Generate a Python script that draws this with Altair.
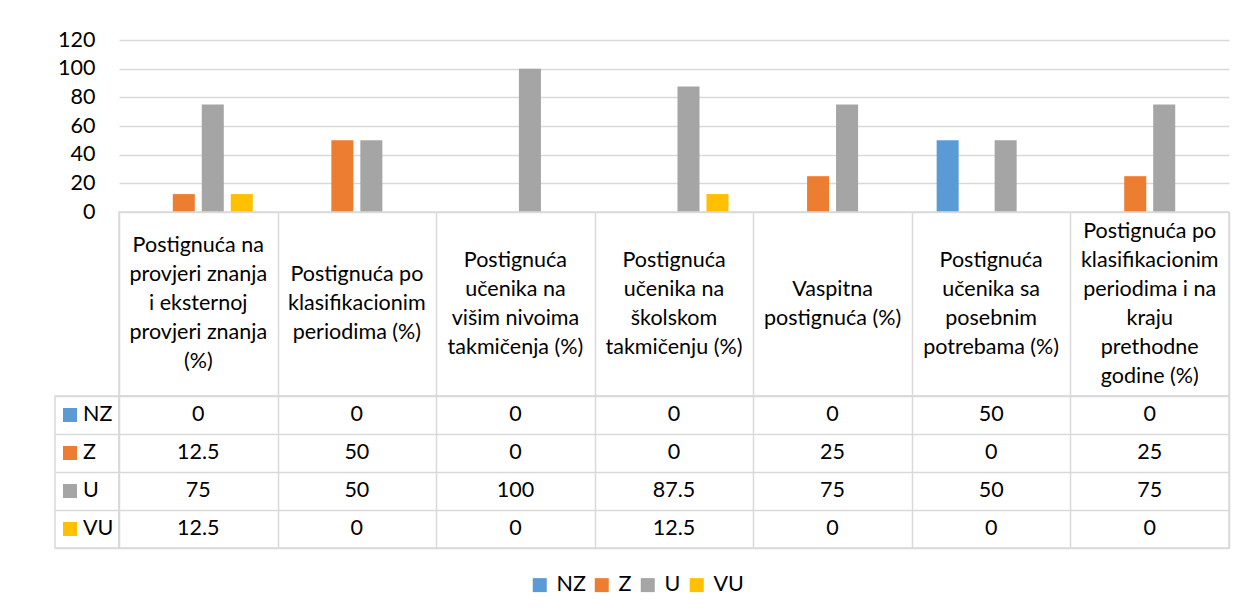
import altair as alt
import pandas as pd

categories = [
    "Postignuća na provjeri znanja i eksternoj provjeri znanja (%)",
    "Postignuća po klasifikacionim periodima (%)",
    "Postignuća učenika na višim nivoima takmičenja (%)",
    "Postignuća učenika na školskom takmičenju (%)",
    "Vaspitna postignuća (%)",
    "Postignuća učenika sa posebnim potrebama (%)",
    "Postignuća po klasifikacionim periodima i na kraju prethodne godine (%)",
]
header_lines = [
    ["Postignuća na", "provjeri znanja", "i eksternoj", "provjeri znanja", "(%)"],
    ["Postignuća po", "klasifikacionim", "periodima (%)"],
    ["Postignuća", "učenika na", "višim nivoima", "takmičenja (%)"],
    ["Postignuća", "učenika na", "školskom", "takmičenju (%)"],
    ["Vaspitna", "postignuća (%)"],
    ["Postignuća", "učenika sa", "posebnim", "potrebama (%)"],
    ["Postignuća po", "klasifikacionim", "periodima i na", "kraju", "prethodne", "godine (%)"],
]
series = ["NZ", "Z", "U", "VU"]
nz = [0, 0, 0, 0, 0, 50, 0]
z = [12.5, 50, 0, 0, 25, 0, 25]
u = [75, 50, 100, 87.5, 75, 50, 75]
vu = [12.5, 0, 0, 12.5, 0, 0, 0]
colors = ["#5B9BD5", "#ED7D31", "#A5A5A5", "#FFC000"]
y_ticks = [0, 20, 40, 60, 80, 100, 120]

rows = []
for s, vals in zip(series, [nz, z, u, vu]):
    for c, v in zip(categories, vals):
        rows.append({"category": c, "series": s, "value": v})
df = pd.DataFrame(rows)

hdr_rows = []
for c, lines in zip(categories, header_lines):
    n = len(lines)
    for i, line in enumerate(lines):
        hdr_rows.append({"category": c, "line": line, "pos": i - (n - 1) / 2})
hdr_df = pd.DataFrame(hdr_rows)
key_df = pd.DataFrame({"series": series})

FONT = "Lato"
GRID = "#d9d9d9"
W = 1110
KEYW = 64
FS = 21.5
LINE_H = 29
HDR_H = 184
NOVIEW = alt.ViewBackground(stroke="transparent")

x_scale = alt.Scale(domain=categories, paddingInner=0, paddingOuter=0)
row_scale = alt.Scale(domain=series, paddingInner=0, paddingOuter=0)
legend = alt.Legend(
    title=None, orient="none", direction="horizontal", legendX=474, legendY=534,
    symbolType="square", symbolSize=196, symbolStrokeWidth=0, symbolOpacity=1,
    labelFontSize=FS, labelFont=FONT, labelColor="black", labelOffset=6,
    columnPadding=5,
)
color = alt.Color("series:N", scale=alt.Scale(domain=series, range=colors), legend=legend)

grid_axis = alt.Axis(grid=True, tickBand="extent", labels=False, ticks=False,
                     domain=False, title=None)

bars = alt.Chart(df).mark_bar().encode(
    x=alt.X("category:N", scale=x_scale, sort=categories, axis=None),
    xOffset=alt.XOffset("series:N", sort=series,
                        scale=alt.Scale(domain=series, paddingInner=0.24, paddingOuter=0.855)),
    y=alt.Y("value:Q", scale=alt.Scale(domain=[0, 120]),
            axis=alt.Axis(values=y_ticks, grid=True, domain=False, ticks=False,
                          labelPadding=24, labelFontSize=FS, title=None)),
    color=color,
).properties(width=W, height=172, view=NOVIEW)

half = HDR_H / LINE_H / 2
header = alt.Chart(hdr_df).mark_text(fontSize=FS, font=FONT, color="black").encode(
    x=alt.X("category:N", scale=x_scale, sort=categories, axis=grid_axis),
    y=alt.Y("pos:Q", scale=alt.Scale(domain=[-half, half], reverse=True), axis=None),
    text="line:N",
).properties(width=W, height=HDR_H)

table = alt.Chart(df).mark_text(fontSize=FS, font=FONT, color="black").encode(
    x=alt.X("category:N", scale=x_scale, sort=categories, axis=grid_axis),
    y=alt.Y("series:N", scale=row_scale, sort=series, axis=grid_axis),
    text=alt.Text("value:Q", format=".1~f"),
).properties(width=W, height=152)

key_sq = alt.Chart(key_df).mark_square(size=196, opacity=1, strokeWidth=0).encode(
    x=alt.value(15),
    y=alt.Y("series:N", scale=row_scale, sort=series, axis=grid_axis),
    color=color,
)
key_tx = alt.Chart(key_df).mark_text(align="left", fontSize=FS, font=FONT, color="black").encode(
    x=alt.value(28),
    y=alt.Y("series:N", scale=row_scale, sort=series, axis=grid_axis),
    text="series:N",
)
key = alt.layer(key_sq, key_tx).properties(width=KEYW, height=152)

blank1 = alt.Chart(key_df).mark_text().encode(text=alt.value("")).properties(
    width=KEYW, height=172, view=NOVIEW)
blank2 = alt.Chart(key_df).mark_text().encode(text=alt.value("")).properties(
    width=KEYW, height=HDR_H, view=NOVIEW)

chart = alt.concat(
    blank1, bars, blank2, header, key, table,
    columns=2, spacing=0, bounds="flush",
).resolve_scale(y="independent", color="shared").properties(
    padding={"left": 46, "top": 20, "right": 5, "bottom": 5},
).configure(font=FONT).configure_view(
    stroke=GRID, strokeWidth=1.5
).configure_axis(
    gridColor=GRID, gridWidth=1.5, labelFont=FONT, labelColor="black"
)

chart.save("out.html", embed_options={"renderer": "svg", "actions": False})
